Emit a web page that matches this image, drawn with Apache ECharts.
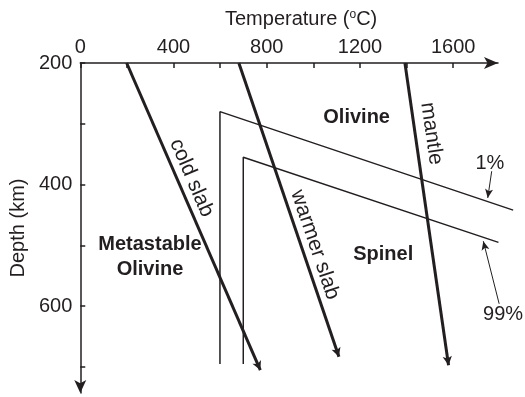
<!DOCTYPE html>
<html>
<head>
<meta charset="utf-8">
<script src="https://cdn.jsdelivr.net/npm/echarts@6/dist/echarts.min.js"></script>
<style>
html, body { margin: 0; padding: 0; background: #fff; }
#chart { width: 525px; height: 397px; }
</style>
</head>
<body>
<div id="chart"></div>
<script>
// axis ticks
const tempTicks = [0, 200, 400, 600, 800, 1000, 1200, 1400, 1600]
const tempLabels = [0, 400, 800, 1200, 1600]
const depthTicks = [200, 300, 400, 500, 600, 700]
const depthLabels = [200, 400, 600]

// geotherms [temperature, depth]
const coldSlab = [[200, 200], [773, 705]]
const warmerSlab = [[681, 200], [1110, 683]]
const mantle = [[1393, 200], [1580, 697]]

// olivine -> spinel, 1% and 99% transformed
const boundary1 = [[600, 695], [600, 280], [1857, 442]]
const boundary99 = [[700, 695], [700, 355], [1794, 495]]

// text labels [text, temperature, depth]
const regionLabels = [
  ['Olivine', 1186, 290],
  ['Spinel', 1300, 515],
  ['Metastable\nOlivine', 300, 519]
]
const slabLabels = [
  ['cold slab', 478, 389],
  ['warmer slab', 1007, 499],
  ['mantle', 1507, 316]
]
const pctLabels = [['1%', 1757, 365], ['99%', 1814, 614]]
const pctArrows = [
  [[1765, 378], [1748, 422]],
  [[1797, 596], [1729, 493]]
]

const font = 'Liberation Sans, Arial, Helvetica, sans-serif'
const ink = '#231f20'
const slabRotate = { 'cold slab': -66.7, 'warmer slab': -71.2, 'mantle': -81.8 }

// same scale as the visible axes, but wide enough that nothing is cut off
const PX_PER_DEG = 411 / 1762
const TMAX_DRAW = 1900

function geotherm(pts) {
  return {
    type: 'line',
    xAxisIndex: 1,
    yAxisIndex: 1,
    data: [],
    markLine: {
      silent: true,
      symbol: ['none', 'arrow'],
      symbolSize: [7, 9],
      label: { show: false },
      lineStyle: { color: ink, width: 3, type: 'solid', opacity: 1 },
      data: [[{ coord: pts[0] }, { coord: pts[1] }]]
    }
  }
}

function boundary(pts) {
  return {
    type: 'line',
    xAxisIndex: 1,
    yAxisIndex: 1,
    data: pts,
    symbol: 'none',
    lineStyle: { color: ink, width: 1.5 }
  }
}

function textSeries(list, style) {
  return {
    type: 'scatter',
    xAxisIndex: 1,
    yAxisIndex: 1,
    symbolSize: 0,
    silent: true,
    itemStyle: { opacity: 1 },
    data: list.map(d => ({
      value: [d[1], d[2]],
      label: {
        show: true,
        position: 'inside',
        formatter: d[0],
        rotate: slabRotate[d[0]] || 0,
        opacity: 1,
        ...style
      }
    }))
  }
}

const chart = echarts.init(document.getElementById('chart'))

chart.setOption({
  animation: false,
  grid: [
    { left: 80, right: 27, top: 63, bottom: 4 },
    { left: 80, width: TMAX_DRAW * PX_PER_DEG, top: 63, bottom: 4 }
  ],
  xAxis: [{
    type: 'value',
    position: 'top',
    min: 0,
    max: 1792,
    name: 'Temperature ({sup|o}C)',
    nameLocation: 'middle',
    nameGap: 34,
    nameTextStyle: {
      fontSize: 20, color: ink, fontFamily: font, padding: [0, 0, 0, 24],
      rich: { sup: { fontSize: 12, color: ink, fontFamily: font, verticalAlign: 'top' } }
    },
    axisLine: { show: true, onZero: false, symbol: ['none', 'arrow'], symbolSize: [9, 14], lineStyle: { color: ink, width: 1.5 } },
    axisTick: { show: true, inside: true, length: 5, customValues: tempTicks, lineStyle: { color: ink, width: 1.5 } },
    axisLabel: { customValues: tempLabels, formatter: v => String(v), margin: 6, fontSize: 20, color: ink, fontFamily: font },
    splitLine: { show: false }
  }, {
    type: 'value', gridIndex: 1, min: 0, max: TMAX_DRAW, show: false
  }],
  yAxis: [{
    type: 'value',
    inverse: true,
    min: 200,
    max: 742.7,
    name: 'Depth (km)',
    nameLocation: 'middle',
    nameGap: 50,
    nameTextStyle: { fontSize: 20, color: ink, fontFamily: font },
    axisLine: { show: true, onZero: false, symbol: ['arrow', 'none'], symbolSize: [9, 13], lineStyle: { color: ink, width: 1.5 } },
    axisTick: { show: true, inside: true, length: 5, customValues: depthTicks, lineStyle: { color: ink, width: 1.5 } },
    axisLabel: { customValues: depthLabels, formatter: v => String(v), margin: 8, fontSize: 20, color: ink, fontFamily: font },
    splitLine: { show: false }
  }, {
    type: 'value', gridIndex: 1, inverse: true, min: 200, max: 742.7, show: false
  }],
  series: [
    boundary(boundary1),
    boundary(boundary99),
    geotherm(coldSlab),
    geotherm(warmerSlab),
    geotherm(mantle),
    {
      type: 'line',
      xAxisIndex: 1,
      yAxisIndex: 1,
      data: [],
      markLine: {
        silent: true,
        symbol: ['none', 'arrow'],
        symbolSize: [6, 9],
        label: { show: false },
        lineStyle: { color: ink, width: 1, type: 'solid', opacity: 1 },
        data: pctArrows.map(a => [{ coord: a[0] }, { coord: a[1] }])
      }
    },
    textSeries(regionLabels, { fontSize: 20, fontWeight: 'bold', color: ink, fontFamily: font, lineHeight: 25, align: 'center' }),
    textSeries(slabLabels, { fontSize: 21, color: ink, fontFamily: font }),
    textSeries(pctLabels, { fontSize: 20, color: ink, fontFamily: font })
  ]
})
</script>
</body>
</html>
